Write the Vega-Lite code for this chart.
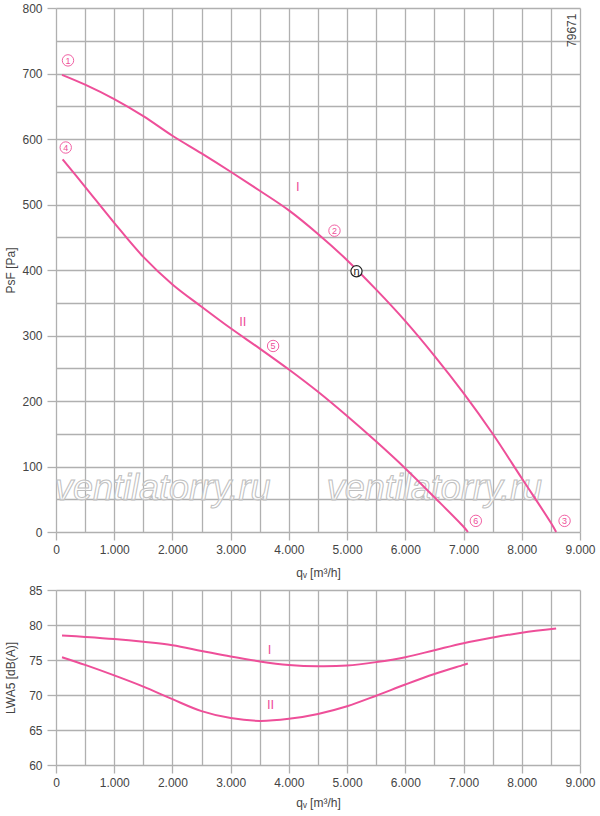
{
  "$schema": "https://vega.github.io/schema/vega-lite/v6.json",
  "background": "white",
  "padding": {"left": 4, "top": 2, "right": 5, "bottom": 5},
  "spacing": 6,
  "config": {
    "font": "Liberation Sans",
    "view": {"stroke": null},
    "axis": {
      "domain": false,
      "labelFont": "Liberation Sans",
      "labelFontSize": 12,
      "labelColor": "#444444",
      "labelFlush": false,
      "labelOverlap": false,
      "titleFont": "Liberation Sans",
      "titleFontSize": 12,
      "titleFontWeight": "normal",
      "titleColor": "#444444",
      "gridColor": "#b0b0b0",
      "gridWidth": 1.3,
      "tickColor": "#b0b0b0",
      "tickWidth": 1.3
    }
  },
  "datasets": {
    "pressure": [
      {"curve": "I", "q": 103, "p": 698},
      {"curve": "I", "q": 500, "p": 683},
      {"curve": "I", "q": 1000, "p": 661},
      {"curve": "I", "q": 1500, "p": 635},
      {"curve": "I", "q": 2000, "p": 605},
      {"curve": "I", "q": 2500, "p": 578},
      {"curve": "I", "q": 3000, "p": 550},
      {"curve": "I", "q": 3500, "p": 521},
      {"curve": "I", "q": 4000, "p": 491},
      {"curve": "I", "q": 4500, "p": 455},
      {"curve": "I", "q": 5000, "p": 415},
      {"curve": "I", "q": 5500, "p": 370},
      {"curve": "I", "q": 6000, "p": 322},
      {"curve": "I", "q": 6500, "p": 269},
      {"curve": "I", "q": 7000, "p": 212},
      {"curve": "I", "q": 7500, "p": 150},
      {"curve": "I", "q": 8000, "p": 82},
      {"curve": "I", "q": 8500, "p": 14},
      {"curve": "I", "q": 8590, "p": 0},
      {"curve": "II", "q": 114, "p": 569},
      {"curve": "II", "q": 500, "p": 527},
      {"curve": "II", "q": 1000, "p": 472},
      {"curve": "II", "q": 1500, "p": 420},
      {"curve": "II", "q": 2000, "p": 378},
      {"curve": "II", "q": 2500, "p": 344},
      {"curve": "II", "q": 3000, "p": 311},
      {"curve": "II", "q": 3500, "p": 280},
      {"curve": "II", "q": 4000, "p": 248},
      {"curve": "II", "q": 4500, "p": 214},
      {"curve": "II", "q": 5000, "p": 177},
      {"curve": "II", "q": 5500, "p": 138},
      {"curve": "II", "q": 6000, "p": 97},
      {"curve": "II", "q": 6500, "p": 53},
      {"curve": "II", "q": 7000, "p": 8},
      {"curve": "II", "q": 7075, "p": 0}
    ],
    "sound": [
      {"curve": "I", "q": 103, "l": 78.5},
      {"curve": "I", "q": 500, "l": 78.3},
      {"curve": "I", "q": 1000, "l": 78.0},
      {"curve": "I", "q": 1500, "l": 77.6},
      {"curve": "I", "q": 2000, "l": 77.1},
      {"curve": "I", "q": 2500, "l": 76.3},
      {"curve": "I", "q": 3000, "l": 75.5},
      {"curve": "I", "q": 3500, "l": 74.8},
      {"curve": "I", "q": 4000, "l": 74.3},
      {"curve": "I", "q": 4500, "l": 74.1},
      {"curve": "I", "q": 5000, "l": 74.2},
      {"curve": "I", "q": 5500, "l": 74.7},
      {"curve": "I", "q": 6000, "l": 75.4},
      {"curve": "I", "q": 6500, "l": 76.4},
      {"curve": "I", "q": 7000, "l": 77.4},
      {"curve": "I", "q": 7500, "l": 78.2},
      {"curve": "I", "q": 8000, "l": 78.9},
      {"curve": "I", "q": 8590, "l": 79.5},
      {"curve": "II", "q": 103, "l": 75.4},
      {"curve": "II", "q": 500, "l": 74.3},
      {"curve": "II", "q": 1000, "l": 72.8},
      {"curve": "II", "q": 1500, "l": 71.2},
      {"curve": "II", "q": 2000, "l": 69.4},
      {"curve": "II", "q": 2500, "l": 67.7},
      {"curve": "II", "q": 3000, "l": 66.7},
      {"curve": "II", "q": 3500, "l": 66.3},
      {"curve": "II", "q": 4000, "l": 66.6},
      {"curve": "II", "q": 4500, "l": 67.3},
      {"curve": "II", "q": 5000, "l": 68.4},
      {"curve": "II", "q": 5500, "l": 69.9},
      {"curve": "II", "q": 6000, "l": 71.5},
      {"curve": "II", "q": 6500, "l": 73.0},
      {"curve": "II", "q": 7000, "l": 74.3},
      {"curve": "II", "q": 7074, "l": 74.5}
    ],
    "watermark": [
      {"q": 1833, "p": 65, "label": "ventilatorry.ru"},
      {"q": 6499, "p": 65, "label": "ventilatorry.ru"}
    ],
    "roman_top": [
      {"q": 4153, "p": 526, "label": "I"},
      {"q": 3208, "p": 321, "label": "II"}
    ],
    "points_top": [
      {"q": 206, "p": 720, "label": "1"},
      {"q": 4783, "p": 460, "label": "2"},
      {"q": 8735, "p": 17, "label": "3"},
      {"q": 167, "p": 587, "label": "4"},
      {"q": 3729, "p": 284, "label": "5"},
      {"q": 7211, "p": 17, "label": "6"}
    ],
    "eta": [
      {"q": 5161, "p": 398, "label": "η"}
    ],
    "code": [
      {"q": 8861, "p": 766, "label": "79671"}
    ],
    "roman_bottom": [
      {"q": 3667, "l": 76.5, "label": "I"},
      {"q": 3684, "l": 68.6, "label": "II"}
    ]
  },
  "vconcat": [
    {
      "width": 524,
      "height": 524,
      "encoding": {
        "x": {
          "field": "q",
          "type": "quantitative",
          "scale": {"domain": [0, 9000], "nice": false},
          "axis": {
            "title": "qᵥ [m³/h]",
            "values": [0, 500, 1000, 1500, 2000, 2500, 3000, 3500, 4000, 4500, 5000, 5500, 6000, 6500, 7000, 7500, 8000, 8500, 9000],
            "labelExpr": "datum.value % 1000 === 0 ? replace(format(datum.value, ','), ',', '.') : ''",
            "tickSize": 8,
            "tickOpacity": {"condition": {"test": "datum.value % 1000 !== 0", "value": 0}, "value": 1},
            "labelPadding": 4,
            "titlePadding": 12
          }
        },
        "y": {
          "field": "p",
          "type": "quantitative",
          "scale": {"domain": [0, 800], "nice": false},
          "axis": {
            "title": "PsF [Pa]",
            "values": [0, 50, 100, 150, 200, 250, 300, 350, 400, 450, 500, 550, 600, 650, 700, 750, 800],
            "labelExpr": "datum.value % 100 === 0 ? datum.label : ''",
            "tickSize": 9,
            "tickOpacity": {"condition": {"test": "datum.value % 100 !== 0", "value": 0}, "value": 1},
            "labelPadding": 5,
            "titlePadding": 4
          }
        }
      },
      "layer": [
        {
          "data": {"name": "watermark"},
          "mark": {"type": "text", "font": "Liberation Sans", "fontSize": 36, "fontStyle": "italic", "fill": "white", "fillOpacity": 0.6, "stroke": "#c0c0c0", "strokeWidth": 1, "align": "center", "baseline": "middle"},
          "encoding": {"text": {"field": "label"}}
        },
        {
          "data": {"name": "pressure"},
          "mark": {"type": "line", "color": "#ee4f99", "strokeWidth": 2, "interpolate": "catmull-rom"},
          "encoding": {"detail": {"field": "curve"}}
        },
        {
          "data": {"name": "roman_top"},
          "mark": {"type": "text", "fontSize": 13, "color": "#ee4f99", "align": "center", "baseline": "middle"},
          "encoding": {"text": {"field": "label"}}
        },
        {
          "data": {"name": "points_top"},
          "mark": {"type": "point", "shape": "circle", "size": 130, "fill": "white", "fillOpacity": 1, "stroke": "#ee4f99", "strokeWidth": 0.9, "opacity": 1}
        },
        {
          "data": {"name": "points_top"},
          "mark": {"type": "text", "fontSize": 9, "color": "#ee4f99", "align": "center", "baseline": "middle", "dy": 0.5},
          "encoding": {"text": {"field": "label"}}
        },
        {
          "data": {"name": "eta"},
          "mark": {"type": "point", "shape": "circle", "size": 125, "fill": "white", "fillOpacity": 1, "stroke": "#222222", "strokeWidth": 1.2, "opacity": 1}
        },
        {
          "data": {"name": "eta"},
          "mark": {"type": "text", "fontSize": 11, "color": "#222222", "align": "center", "baseline": "middle", "dy": 0.5},
          "encoding": {"text": {"field": "label"}}
        },
        {
          "data": {"name": "code"},
          "mark": {"type": "text", "fontSize": 12, "color": "#444444", "angle": 270, "align": "center", "baseline": "middle"},
          "encoding": {"text": {"field": "label"}}
        }
      ]
    },
    {
      "width": 524,
      "height": 175,
      "encoding": {
        "x": {
          "field": "q",
          "type": "quantitative",
          "scale": {"domain": [0, 9000], "nice": false},
          "axis": {
            "title": "qᵥ [m³/h]",
            "values": [0, 500, 1000, 1500, 2000, 2500, 3000, 3500, 4000, 4500, 5000, 5500, 6000, 6500, 7000, 7500, 8000, 8500, 9000],
            "labelExpr": "datum.value % 1000 === 0 ? replace(format(datum.value, ','), ',', '.') : ''",
            "tickSize": 8,
            "tickOpacity": {"condition": {"test": "datum.value % 1000 !== 0", "value": 0}, "value": 1},
            "labelPadding": 4,
            "titlePadding": 9
          }
        },
        "y": {
          "field": "l",
          "type": "quantitative",
          "scale": {"domain": [60, 85], "nice": false, "zero": false},
          "axis": {
            "title": "LWA5 [dB(A)]",
            "values": [60, 65, 70, 75, 80, 85],
            "tickSize": 9,
            "labelPadding": 5,
            "titlePadding": 11
          }
        }
      },
      "layer": [
        {
          "data": {"name": "sound"},
          "mark": {"type": "line", "color": "#ee4f99", "strokeWidth": 2, "interpolate": "catmull-rom"},
          "encoding": {"detail": {"field": "curve"}}
        },
        {
          "data": {"name": "roman_bottom"},
          "mark": {"type": "text", "fontSize": 13, "color": "#ee4f99", "align": "center", "baseline": "middle"},
          "encoding": {"text": {"field": "label"}}
        }
      ]
    }
  ]
}
